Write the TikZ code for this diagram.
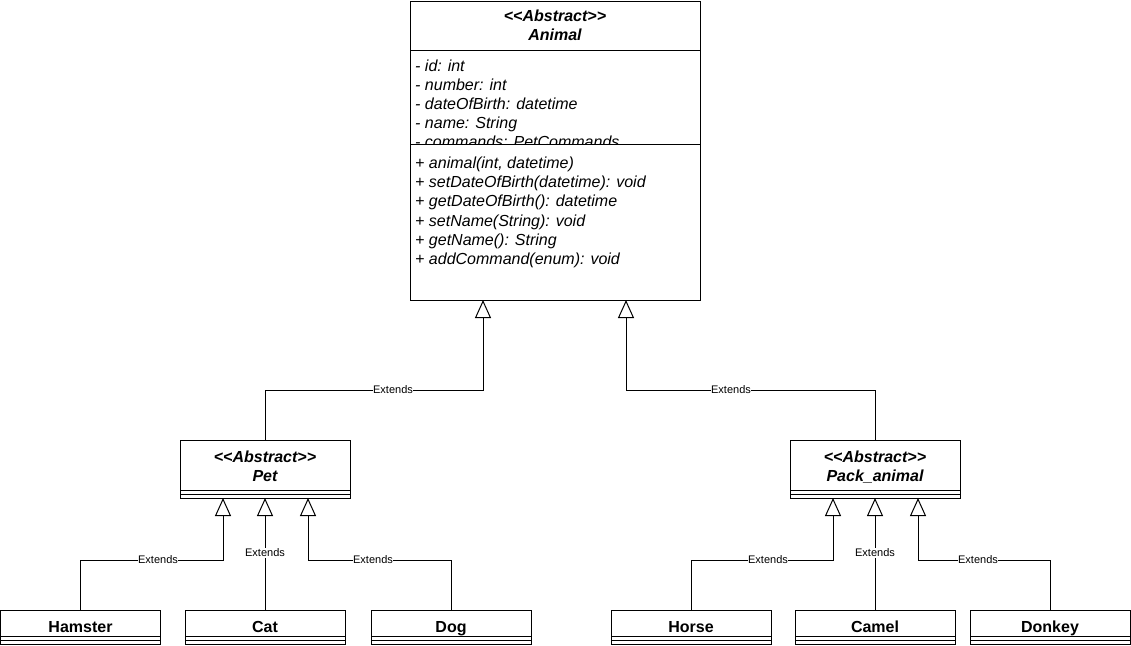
\documentclass[tikz,border=0pt]{standalone}
\usepackage{fontspec}
\setmainfont{Liberation Sans}
\usetikzlibrary{arrows.meta}
\newcommand{\ltc}{\mbox{<}}
\newcommand{\gtc}{\mbox{>}}
\begin{document}
\begin{tikzpicture}[x=1pt,y=-1pt]
\tikzset{
 box/.style={draw=black, line width=1pt, inner sep=0pt, outer sep=0pt, anchor=north west, fill=white},
 hdr/.style={font=\fontsize{16}{19}\selectfont\bfseries\itshape, anchor=base, inner sep=0pt},
 clsname/.style={font=\fontsize{16}{19}\selectfont\bfseries, anchor=base, inner sep=0pt},
 mem/.style={font=\fontsize{16}{19}\selectfont\itshape, anchor=base west, inner sep=0pt},
 lbl/.style={font=\fontsize{11}{13}\selectfont, fill=white, inner sep=0.5pt},
 ext/.style={draw=black, line width=1pt, -{Triangle[open, length=18pt, width=16pt]}},
 sep/.style={draw=black, line width=1pt},
}
\useasboundingbox (0,0) rectangle (1131,645);
\fill[white] (0,0) rectangle (1131,645);

% Animal
\node[box, minimum width=290, minimum height=299] (animal) at (410,1) {};
\draw[sep] (410,50) -- (700,50);
\draw[sep] (410,144) -- (700,144);
\node[hdr] (an1) at (555,21.5) {\ltc\ltc Abstract\gtc\gtc};
\node[hdr] (an2) at (555,40) {Animal};
\node[mem] (at1) at (415,71.5) {- id: int};
\node[mem] (at2) at (415,90.5) {- number: int};
\node[mem] (at3) at (415,109.5) {- dateOfBirth: datetime};
\node[mem] (at4) at (415,128.5) {- name: String};
\begin{scope}
\clip (410,51) rectangle (700,143.5);
\node[mem] (at5) at (415,147.5) {- commands: PetCommands};
\end{scope}
\node[mem] (m1) at (415,168.5) {+ animal(int, datetime)};
\node[mem] (m2) at (415,187.7) {+ setDateOfBirth(datetime): void};
\node[mem] (m3) at (415,206.9) {+ getDateOfBirth(): datetime};
\node[mem] (m4) at (415,226.1) {+ setName(String): void};
\node[mem] (m5) at (415,245.3) {+ getName(): String};
\node[mem] (m6) at (415,264.5) {+ addCommand(enum): void};

% Pet
\node[box, minimum width=170, minimum height=58] (pet) at (180,440) {};
\draw[sep] (180,490) -- (350,490);
\draw[sep] (180,494) -- (350,494);
\node[hdr] (pt1) at (265,462) {\ltc\ltc Abstract\gtc\gtc};
\node[hdr] (pt2) at (265,481) {Pet};

% Pack_animal
\node[box, minimum width=170, minimum height=58] (pack) at (790,440) {};
\draw[sep] (790,490) -- (960,490);
\draw[sep] (790,494) -- (960,494);
\node[hdr] (pk1) at (875,462) {\ltc\ltc Abstract\gtc\gtc};
\node[hdr] (pk2) at (875,481) {Pack\_animal};

% leaf classes
\foreach \nm/\lab/\x in {hamster/Hamster/0.5, cat/Cat/185, dog/Dog/371, horse/Horse/611, camel/Camel/795, donkey/Donkey/970}{
  \node[box, minimum width=160, minimum height=34] (\nm) at (\x,610) {};
  \draw[sep] (\x,636) -- (\x+160,636);
  \draw[sep] (\x,640) -- (\x+160,640);
  \node[clsname] (\nm t) at (\x+80,632) {\lab};
}

% attachment points
\coordinate (a1) at ([xshift=-72pt]animal.south);
\coordinate (a2) at ([xshift=71pt]animal.south);
\coordinate (p1) at ([xshift=-42pt]pet.south);
\coordinate (p3) at ([xshift=43pt]pet.south);
\coordinate (k1) at ([xshift=-42pt]pack.south);
\coordinate (k3) at ([xshift=43pt]pack.south);

% connectors
\draw[ext] (pet.north) -- ++(0,-50) -| (a1);
\draw[ext] (pack.north) -- ++(0,-50) -| (a2);
\draw[ext] (hamster.north) -- ++(0,-50) -| (p1);
\draw[ext] (cat.north) -- (pet.south);
\draw[ext] (dog.north) -- ++(0,-50) -| (p3);
\draw[ext] (horse.north) -- ++(0,-50) -| (k1);
\draw[ext] (camel.north) -- (pack.south);
\draw[ext] (donkey.north) -- ++(0,-50) -| (k3);

% labels
\node[lbl] (l1) at (393,390) {Extends};
\node[lbl] (l2) at (731,390) {Extends};
\node[lbl] (l3) at (158,560) {Extends};
\node[lbl] (l4) at (265,553) {Extends};
\node[lbl] (l5) at (373,560) {Extends};
\node[lbl] (l6) at (768,560) {Extends};
\node[lbl] (l7) at (875,553) {Extends};
\node[lbl] (l8) at (978,560) {Extends};
\end{tikzpicture}
\end{document}
